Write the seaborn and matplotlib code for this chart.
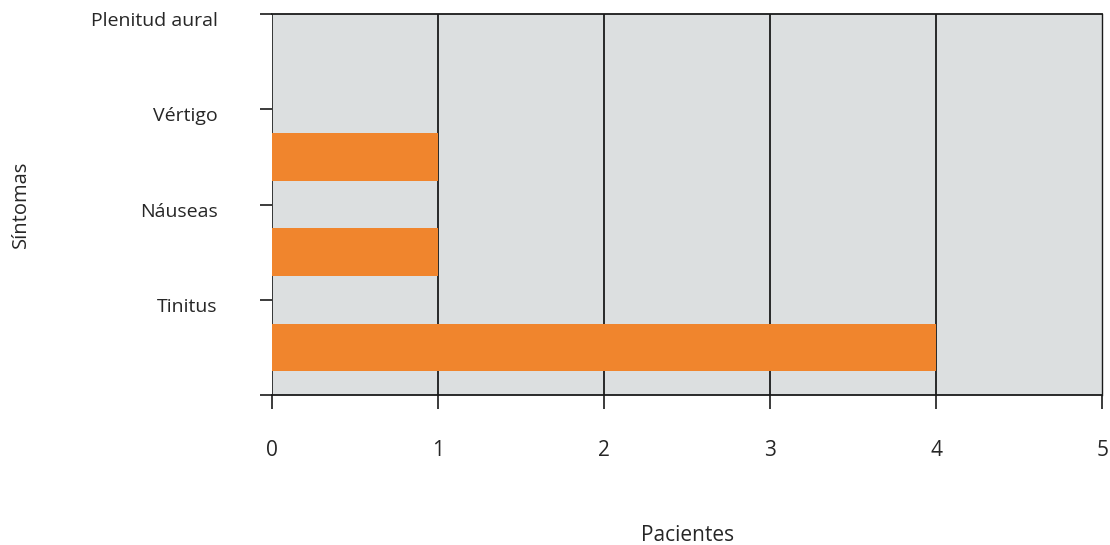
import pandas as pd
import seaborn as sns
import matplotlib.pyplot as plt
import matplotlib.transforms as mtransforms

# Datos del gráfico
sintomas = ['Plenitud aural', 'Vértigo', 'Náuseas', 'Tinitus']
pacientes = [0, 1, 1, 4]
x_ticks = [0, 1, 2, 3, 4, 5]

df = pd.DataFrame({'Síntomas': sintomas, 'Pacientes': pacientes})

sns.set_style('white')
plt.rcParams['font.family'] = ['Open Sans', 'DejaVu Sans']

fig = plt.figure(figsize=(11.1, 5.45), dpi=100)
ax = fig.add_axes([0.245, 0.275, 0.748, 0.699])
ax.set_facecolor('#dcdfe0')

sns.barplot(data=df, x='Pacientes', y='Síntomas', order=sintomas,
            color='#f0852d', saturation=1, width=0.5, linewidth=0,
            ax=ax, zorder=3)

# líneas verticales de la cuadrícula
for v in x_ticks[1:-1]:
    ax.axvline(v, color='#1a1a1a', lw=1.3, zorder=2)

ax.set_xlim(0, 5)
ax.set_ylim(len(sintomas) - 0.5, -0.5)

# las etiquetas quedan en los bordes de cada banda, como en el original
bordes = [i - 0.5 for i in range(len(sintomas) + 1)]
ax.set_yticks(bordes)
ax.set_yticklabels(sintomas + [''], fontsize=14)
ax.set_xticks(x_ticks)
ax.set_xticklabels([str(t) for t in x_ticks], fontsize=15)

ax.tick_params(axis='y', length=9, width=1.2, color='#1a1a1a', pad=30, left=True)
ax.tick_params(axis='x', length=10, width=1.2, color='#1a1a1a', pad=22, bottom=True)

# bajar un poco las etiquetas del eje y
desplazar = mtransforms.ScaledTranslation(0, -5 / 100, fig.dpi_scale_trans)
for lbl in ax.get_yticklabels():
    lbl.set_transform(lbl.get_transform() + desplazar)

for side in ['top', 'right', 'bottom', 'left']:
    ax.spines[side].set_visible(True)
    ax.spines[side].set_color('#1a1a1a')
ax.spines['left'].set_linewidth(0.6)
ax.spines['right'].set_linewidth(1.0)
ax.spines['top'].set_linewidth(1.3)
ax.spines['bottom'].set_linewidth(1.3)

ax.set_xlabel('Pacientes', fontsize=15)
ax.xaxis.set_label_coords(0.5, -0.34)
ax.set_ylabel('Síntomas', fontsize=14.5)
ax.yaxis.set_label_coords(-0.29, 0.5)

fig.savefig('out.png', dpi=100, facecolor='white')
